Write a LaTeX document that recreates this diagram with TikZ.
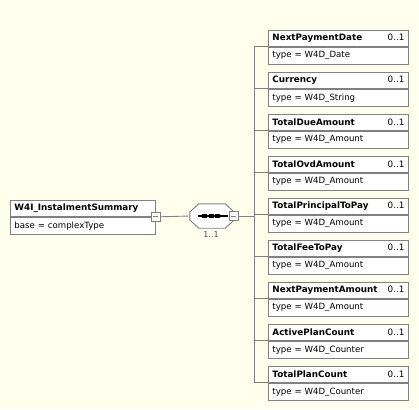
\documentclass[tikz,border=0pt]{standalone}
\usepackage{fontspec}
\setmainfont{DejaVu Sans}
\definecolor{diagback}{HTML}{FFFFEE}
\definecolor{boxline}{HTML}{808080}
\definecolor{labelgray}{HTML}{505050}

\tikzset{
  elemhead/.style={draw=boxline, fill=white, anchor=north west, line width=0.9pt,
    minimum height=16pt, text width=132pt, inner xsep=4pt, inner ysep=0pt,
    font=\bfseries\fontsize{8.8}{10}\selectfont},
  elembody/.style={draw=boxline, fill=white, anchor=north west, line width=0.9pt,
    minimum height=17pt, text width=132pt, inner xsep=4pt, inner ysep=0pt,
    font=\fontsize{8.6}{10}\selectfont},
  minusbox/.style={draw=boxline, fill=white, line width=0.9pt, minimum size=9pt, inner sep=0pt,
    path picture={\draw[boxline, line width=0.9pt] ([xshift=-2.5pt]path picture bounding box.center)
      -- ([xshift=2.5pt]path picture bounding box.center);}},
  conn/.style={draw=boxline, line width=0.9pt},
  seqdot/.style={fill=black, minimum width=5pt, minimum height=3.6pt, inner sep=0pt}
}

\begin{document}
\begin{tikzpicture}[x=1pt, y=-1pt]
  \useasboundingbox[fill=diagback] (0,0) rectangle (419,409);

  % root element
  \node[elemhead, text width=137pt] (roothead) at (10,200) {W4I\_InstalmentSummary};
  \node[elembody, text width=137pt] (rootbody) at (roothead.south west) {base = complexType};
  \node[minusbox] (rootminus) at (roothead.south east) {};

  % sequence compositor
  \node[minimum width=44pt, minimum height=24pt, inner sep=0pt] (seq) at (212,216) {};
  \draw[conn, fill=white] (seq.west) -- ([yshift=4pt]seq.west) -- ([xshift=9pt]seq.north west)
    -- ([xshift=-9pt]seq.north east) -- ([yshift=4pt]seq.east) -- ([yshift=-4pt]seq.east)
    -- ([xshift=-9pt]seq.south east) -- ([xshift=9pt]seq.south west)
    -- ([yshift=-4pt]seq.west) -- cycle;
  \draw[line width=1.3pt] ([xshift=8pt]seq.west) -- ([xshift=38pt]seq.west);
  \foreach \dx in {15,21.5,28} {
    \node[seqdot] at ([xshift=\dx pt]seq.west) {};
  }
  \node[minusbox] (seqminus) at ([xshift=-0.5pt]seq.east) {};
  \node[font=\fontsize{8}{9}\selectfont, text=labelgray] (seqcount) at (211,234.5) {1..1};

  \draw[conn] (rootminus) -- (seq.west);
  \coordinate (spine) at (254,216);
  \draw[conn] (seqminus) -- (spine);

  % child elements
  \foreach \elname/\eltype [count=\i] in {NextPaymentDate/W4D\_Date, Currency/W4D\_String,
      TotalDueAmount/W4D\_Amount, TotalOvdAmount/W4D\_Amount, TotalPrincipalToPay/W4D\_Amount,
      TotalFeeToPay/W4D\_Amount, NextPaymentAmount/W4D\_Amount, ActivePlanCount/W4D\_Counter,
      TotalPlanCount/W4D\_Counter} {
    \node[elemhead] (head\i) at (268,{30+42*(\i-1)}) {\elname\hfill{\mdseries 0..1}};
    \node[elembody] (body\i) at (head\i.south west) {type = \eltype};
    \draw[conn] (spine) |- (head\i.south west);
  }
\end{tikzpicture}
\end{document}
